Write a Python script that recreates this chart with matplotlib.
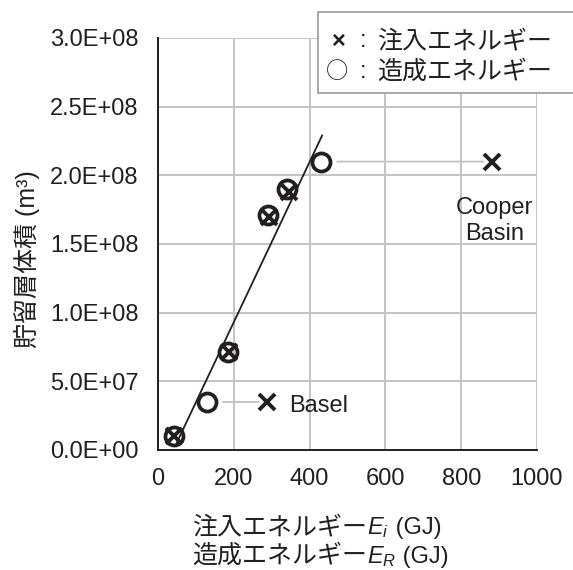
"""
Reservoir volume vs. injected / created energy.
"""
import matplotlib
matplotlib.use('Agg')
import matplotlib.pyplot as plt
from matplotlib.patches import Rectangle

plt.rcParams['font.family'] = ['Liberation Sans', 'Noto Sans CJK JP', 'DejaVu Sans']
plt.rcParams['mathtext.fontset'] = 'custom'
plt.rcParams['mathtext.rm'] = 'Liberation Sans'
plt.rcParams['mathtext.it'] = 'Liberation Sans:italic'

# injected energy (x markers), GJ vs m3
inj_x = [43, 187, 293, 345, 288, 880]
inj_y = [1.0e7, 7.1e7, 1.70e8, 1.88e8, 3.5e7, 2.1e8]
# created energy (circles)
cre_x = [43, 185, 290, 340, 128, 429]
cre_y = [1.0e7, 7.1e7, 1.71e8, 1.90e8, 3.5e7, 2.1e8]
# fit line
fit_x = [49, 433]
fit_y = [0.5e7, 2.29e8]
# sites with separate markers
sites = ['Basel', 'Cooper\nBasin']
site_idx = [4, 5]
site_text_xy = [(345, 3.2e7), (889, 1.67e8)]

xticks = [0, 200, 400, 600, 800, 1000]
yticks = [0, 5e7, 1e8, 1.5e8, 2e8, 2.5e8, 3e8]
ytick_labels = ['0.0E+00', '5.0E+07', '1.0E+08', '1.5E+08', '2.0E+08', '2.5E+08', '3.0E+08']

W, H = 573, 570
fig = plt.figure(figsize=(W / 100, H / 100), dpi=100)
ax = fig.add_axes([158 / W, 1 - 450 / H, 379 / W, 412 / H])

fs = 17      # latin text
fs_jp = 18   # japanese text
ink = '#231f20'
grid_c = '#c4c4c8'

ax.set_xlim(0, 1000)
ax.set_ylim(0, 3e8)
ax.set_xticks(xticks)
ax.set_yticks(yticks)
ax.set_yticklabels(ytick_labels)
ax.tick_params(length=0, labelsize=fs, colors=ink)
ax.tick_params(axis='y', pad=14)
ax.tick_params(axis='x', pad=13)
ax.grid(True, color=grid_c, linewidth=1.4)
ax.set_axisbelow(True)
for s in ['top', 'right']:
    ax.spines[s].set_visible(False)
for s in ['left', 'bottom']:
    ax.spines[s].set_linewidth(1.4)
    ax.spines[s].set_color(ink)

# connectors + site names
for i, name, (tx, ty) in zip(site_idx, sites, site_text_xy):
    ax.annotate('', xy=(inj_x[i], inj_y[i]), xytext=(cre_x[i], cre_y[i]),
                arrowprops=dict(arrowstyle='-', color=grid_c, lw=1.4,
                                shrinkA=12, shrinkB=6))
    ha = 'center' if '\n' in name else 'left'
    ax.text(tx, ty, name, fontsize=fs, ha=ha, va='center', color=ink,
            linespacing=1.25)

ax.plot(fit_x, fit_y, color=ink, lw=1.3, zorder=3)
ax.plot(cre_x, cre_y, 'o', ms=13, mfc='none', mec=ink, mew=2.7, zorder=4)
ax.plot(inj_x, inj_y, 'x', ms=11, mec=ink, mew=2.8, zorder=4)

renderer = fig.canvas.get_renderer()


def text_run(x, y, pieces):
    """Draw text pieces one after another starting at pixel x, y."""
    for s, size in pieces:
        t = fig.text(x / W, 1 - y / H, s, fontsize=size, ha='left',
                     va='baseline', color=ink)
        x = t.get_window_extent(renderer).x1


# axis labels
fig.text(27 / W, 1 - 259 / H, '貯留層体積 (m³)', rotation=90, fontsize=fs_jp,
         ha='center', va='center', color=ink)
text_run(192, 534, [('注入エネルギー', fs_jp), ('$E_i$', fs), (' (GJ)', fs)])
text_run(192, 563, [('造成エネルギー', fs_jp), ('$E_R$', fs), (' (GJ)', fs)])

# legend box
fig.patches.append(Rectangle((318 / W, 1 - 93 / H), 270 / W, 81 / H,
                             transform=fig.transFigure, facecolor='white',
                             edgecolor='#a8a8ac', lw=1.4, zorder=5))
fig.text(339 / W, 1 - 41 / H, '×', fontsize=fs, fontweight='bold', ha='center',
         va='center', color=ink, zorder=6)
fig.text(337 / W, 1 - 72 / H, '○', fontsize=fs - 1, family='Noto Sans CJK JP',
         ha='center', va='center', color=ink, zorder=6)
for yy in [41, 72]:
    fig.text(363 / W, 1 - yy / H, ':', fontsize=fs, ha='center', va='center',
             color=ink, zorder=6)
fig.text(377 / W, 1 - 41 / H, '注入エネルギー', fontsize=fs_jp, ha='left',
         va='center', color=ink, zorder=6)
fig.text(377 / W, 1 - 72 / H, '造成エネルギー', fontsize=fs_jp, ha='left',
         va='center', color=ink, zorder=6)

plt.savefig('out.png', dpi=100)
